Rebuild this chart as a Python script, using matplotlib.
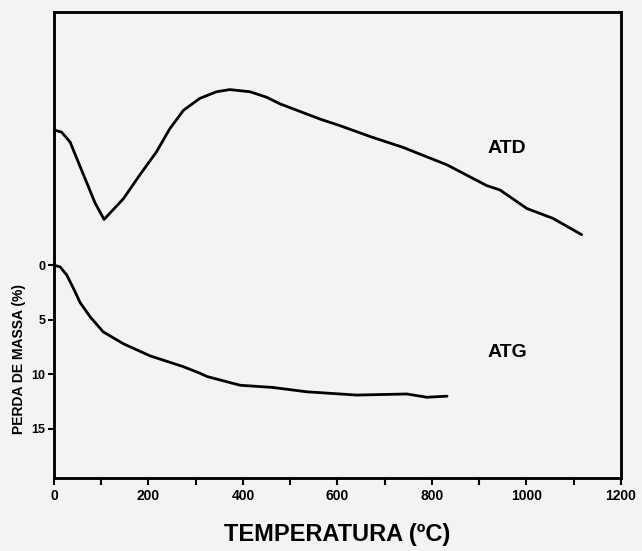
import numpy as np
import matplotlib
matplotlib.use("Agg")
import matplotlib.pyplot as plt
from matplotlib.ticker import MultipleLocator

# ATG: mass loss (%) vs temperature (C)
atg_temp = [0, 13, 27, 41, 55, 76, 104, 147, 203, 274, 309, 324, 394, 463, 535, 641, 747, 789, 832]
atg_loss = [0, 0.15, 0.9, 2.1, 3.4, 4.7, 6.1, 7.2, 8.3, 9.3, 9.9, 10.2, 11.0, 11.2, 11.6, 11.9, 11.8, 12.1, 12.0]

# ATD: signal in arbitrary units (up = exothermic)
atd_temp = [0, 16, 34, 51, 69, 87, 106, 147, 182, 217, 245, 274, 309, 344, 372, 415,
            450, 478, 563, 605, 669, 739, 832, 916, 944, 1001, 1056, 1117]
atd_signal = [12.4, 12.2, 11.3, 9.5, 7.6, 5.7, 4.2, 6.1, 8.3, 10.4, 12.5, 14.2, 15.3,
              15.9, 16.1, 15.9, 15.4, 14.8, 13.4, 12.8, 11.8, 10.8, 9.2, 7.3, 6.9, 5.2, 4.3, 2.8]

x_ticks = [0, 200, 400, 600, 800, 1000, 1200]
x_labels = ["0", "200", "400", "600", "800", "1000", "1200"]
y_ticks = [0, 5, 10, 15]

BG = "#f3f3f3"
FONT = "Liberation Sans"

fig = plt.figure(figsize=(6.42, 5.51), dpi=100, facecolor=BG)
ax = fig.add_axes([0.0841, 0.1325, 0.883, 0.8455])
ax.set_facecolor(BG)

ax.plot(atg_temp, atg_loss, color="black", lw=2.0, solid_joinstyle="round", solid_capstyle="round")
ax.set_xlim(0, 1200)
ax.set_ylim(19.5, -23.2)  # mass loss grows downward

ax2 = ax.twinx()
ax2.plot(atd_temp, atd_signal, color="black", lw=2.0, solid_joinstyle="round", solid_capstyle="round")
ax2.set_ylim(-19.5, 23.2)
ax2.set_yticks([])

ax.set_xticks(x_ticks)
ax.set_xticklabels(x_labels, fontfamily=FONT, fontweight="bold", fontsize=10)
ax.xaxis.set_minor_locator(MultipleLocator(100))
ax.set_yticks(y_ticks)
ax.set_yticklabels([str(v) for v in y_ticks], fontfamily=FONT, fontweight="bold", fontsize=9)
ax.tick_params(axis="both", which="both", direction="out", width=1.5, length=5, pad=3)
ax.tick_params(axis="y", length=4, pad=2)

for a in (ax, ax2):
    for s in a.spines.values():
        s.set_linewidth(1.8)

ax.set_xlabel("TEMPERATURA (ºC)", fontfamily=FONT, fontweight="bold", fontsize=17, labelpad=14)
ax.text(-0.062, 0.255, "PERDA DE MASSA (%)", transform=ax.transAxes, rotation=90,
        ha="center", va="center", fontfamily=FONT, fontweight="bold", fontsize=10)

ax.text(958, -10.7, "ATD", fontfamily=FONT, fontweight="bold", fontsize=14, ha="center", va="center")
ax.text(960, 8.0, "ATG", fontfamily=FONT, fontweight="bold", fontsize=14, ha="center", va="center")

fig.savefig("out.png", dpi=100, facecolor=BG)
